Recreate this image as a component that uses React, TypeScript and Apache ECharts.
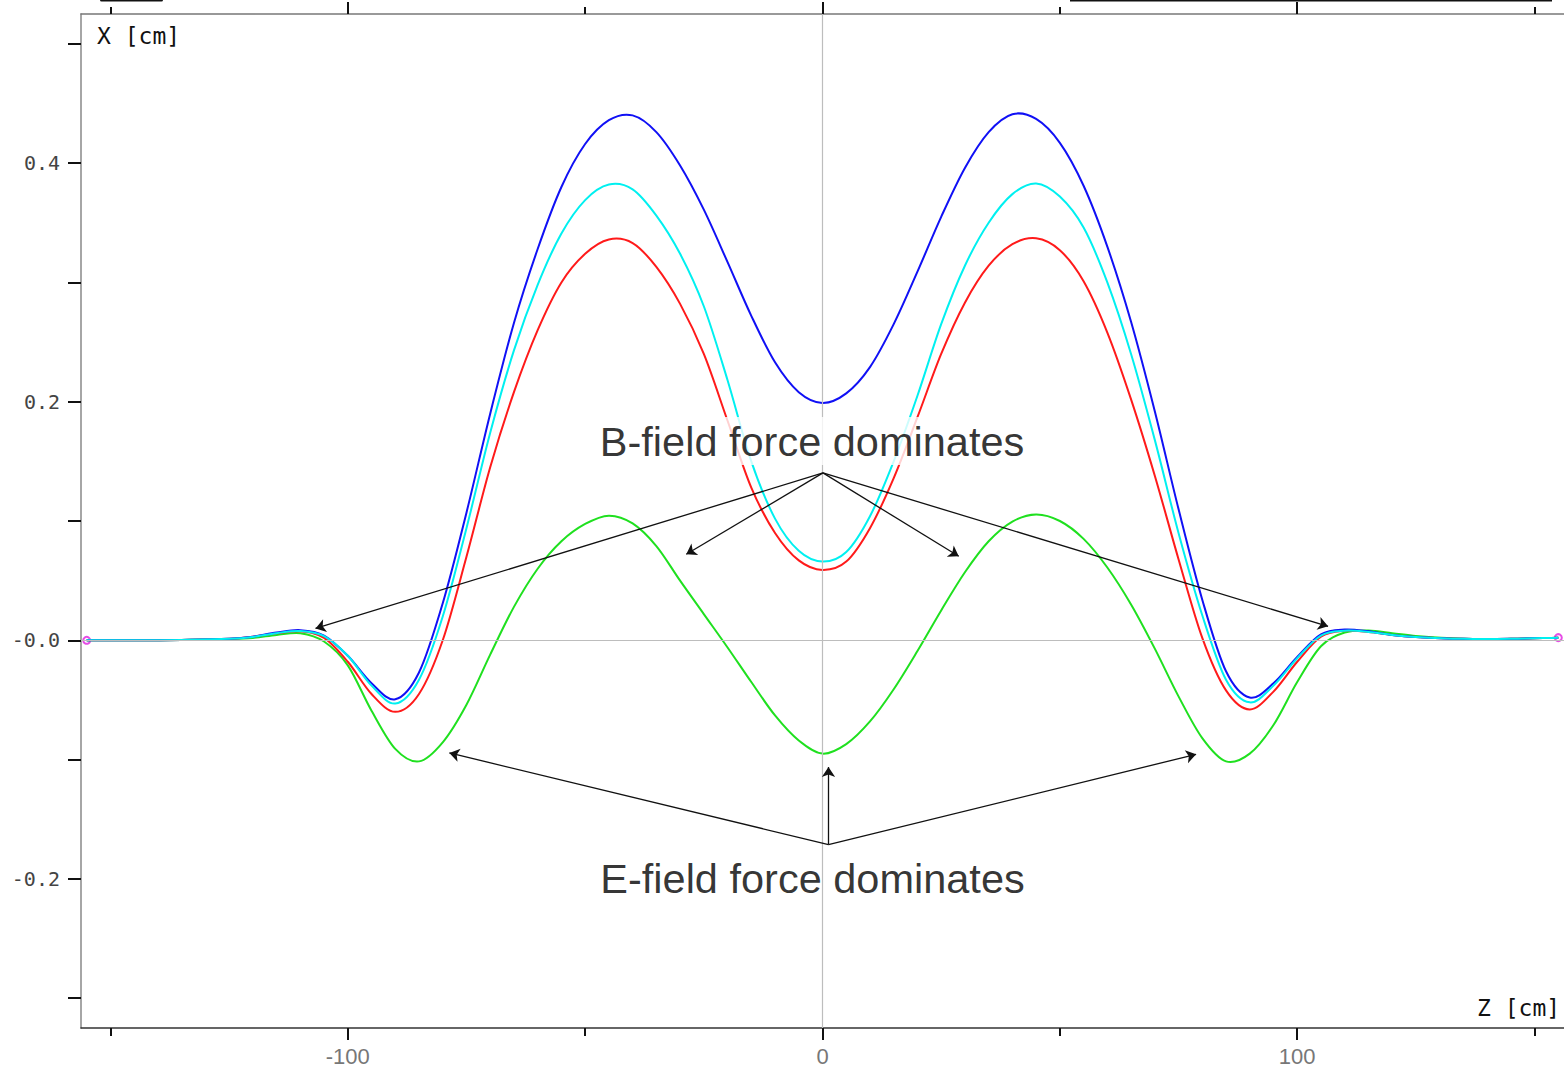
import React, { useEffect, useRef } from "react";
import * as echarts from "echarts";

// Longitudinal position Z [cm]
const Z_CM = [
  -155, -145, -135, -125, -120, -115, -110, -105, -100, -95, -90, -85, -80, -75, -70, -65, -60, -55, -50,
  -45, -40, -35, -30, -25, -20, -15, -10, -5, 0, 5, 10, 15, 20, 25, 30, 35, 40, 45, 50, 55, 60, 65, 70, 75,
  80, 85, 90, 95, 100, 105, 110, 115, 120, 125, 135, 145, 155,
];

// Transverse displacement X [cm] for each trajectory
const X_BLUE = [
  0, 0, 0.0003, 0.0012, 0.003, 0.0065, 0.0085, 0.004, -0.013, -0.036, -0.0495, -0.027, 0.031, 0.107, 0.19,
  0.266, 0.328, 0.38, 0.416, 0.436, 0.44, 0.426, 0.398, 0.361, 0.317, 0.272, 0.233, 0.208, 0.199, 0.207,
  0.229, 0.265, 0.309, 0.355, 0.396, 0.426, 0.441, 0.437, 0.417, 0.381, 0.33, 0.267, 0.192, 0.11, 0.034,
  -0.026, -0.048, -0.036, -0.014, 0.005, 0.009, 0.0075, 0.0045, 0.0028, 0.0012, 0.0012, 0.0022,
];
const X_CYAN = [
  0, 0, 0.0003, 0.0012, 0.0028, 0.006, 0.0078, 0.0035, -0.013, -0.038, -0.053, -0.033, 0.02, 0.094, 0.174,
  0.243, 0.298, 0.341, 0.369, 0.382, 0.378, 0.356, 0.324, 0.28, 0.218, 0.15, 0.102, 0.075, 0.066, 0.074,
  0.104, 0.15, 0.205, 0.265, 0.314, 0.35, 0.374, 0.383, 0.372, 0.346, 0.3, 0.24, 0.168, 0.09, 0.021,
  -0.033, -0.052, -0.038, -0.015, 0.004, 0.008, 0.007, 0.0045, 0.0028, 0.0012, 0.0012, 0.0022,
];
const X_RED = [
  0, 0, 0.0003, 0.0012, 0.003, 0.0058, 0.0075, 0.002, -0.018, -0.045, -0.06, -0.045, 0, 0.07, 0.145, 0.208,
  0.26, 0.3, 0.324, 0.336, 0.333, 0.313, 0.282, 0.24, 0.184, 0.128, 0.09, 0.067, 0.059, 0.066, 0.094,
  0.136, 0.187, 0.24, 0.283, 0.314, 0.332, 0.337, 0.327, 0.301, 0.258, 0.202, 0.138, 0.068, 0.002, -0.042,
  -0.058, -0.043, -0.018, 0.003, 0.008, 0.007, 0.0045, 0.0028, 0.0012, 0.0012, 0.0022,
];
const X_GREEN = [
  0, 0, 0.0003, 0.0011, 0.002, 0.0045, 0.006, -0.001, -0.021, -0.059, -0.091, -0.1015, -0.0855, -0.054,
  -0.012, 0.028, 0.06, 0.083, 0.0975, 0.1045, 0.098, 0.079, 0.05, 0.022, -0.006, -0.035, -0.063, -0.084,
  -0.095, -0.087, -0.068, -0.041, -0.009, 0.025, 0.057, 0.083, 0.0995, 0.1055, 0.1, 0.085, 0.061, 0.03,
  -0.007, -0.047, -0.082, -0.1015, -0.095, -0.071, -0.035, -0.005, 0.0065, 0.0082, 0.006, 0.0035, 0.0012,
  0.0012, 0.0022,
];

// Start and end points of the tracked trajectories
const END_POINTS = [
  [-155, 0],
  [155, 0.0022],
];

// Axis ticks and labels
const Z_MAJOR_TICKS = [-100, 0, 100];
const Z_MINOR_TICKS = [-150, -50, 50, 150];
const X_TICKS = [-0.3, -0.2, -0.1, 0, 0.1, 0.2, 0.3, 0.4, 0.5];
const X_LABELS = [-0.2, 0, 0.2, 0.4];

// Annotation callouts: [from, to] in data coordinates
const B_ORIGIN = [0.1, 0.1403];
const B_TARGETS = [
  [-106.8, 0.0099],
  [-28.7, 0.0721],
  [28.7, 0.0704],
  [106.5, 0.0117],
];
const E_ORIGIN = [1.26, -0.1713];
const E_TARGETS = [
  [-78.6, -0.0944],
  [1.26, -0.1062],
  [78.7, -0.0956],
];
const ANNOTATION_TEXTS = [
  { z: -2.2, x: 0.167, text: "B-field force dominates", masked: true },
  { z: -2.1, x: -0.2, text: "E-field force dominates", masked: false },
];

const Z_MIN = -156.2;
const Z_MAX = 156.2;
const X_MIN = -0.325;
const X_MAX = 0.525;

// Smooth trajectory through the sampled points: cubic Hermite segments
// parameterised by Z, with central-difference tangents, in pixel space.
function trajectoryPath(pts: number[][], api: any): string {
  const px = pts.map((p) => api.coord(p));
  const n = pts.length;
  const slope = (i: number) => {
    const a = Math.max(0, i - 1);
    const b = Math.min(n - 1, i + 1);
    const dz = pts[b][0] - pts[a][0];
    return [(px[b][0] - px[a][0]) / dz, (px[b][1] - px[a][1]) / dz];
  };
  const f = (v: number) => v.toFixed(2);
  let d = `M${f(px[0][0])} ${f(px[0][1])}`;
  for (let i = 0; i < n - 1; i++) {
    const h = (pts[i + 1][0] - pts[i][0]) / 3;
    const m0 = slope(i);
    const m1 = slope(i + 1);
    d +=
      ` C${f(px[i][0] + m0[0] * h)} ${f(px[i][1] + m0[1] * h)}` +
      ` ${f(px[i + 1][0] - m1[0] * h)} ${f(px[i + 1][1] - m1[1] * h)}` +
      ` ${f(px[i + 1][0])} ${f(px[i + 1][1])}`;
  }
  return d;
}

export default function App() {
  const ref = useRef<HTMLDivElement>(null);

  useEffect(() => {
    if (!ref.current) return;
    const chart = echarts.init(ref.current, undefined, { renderer: "svg" });

    const gridBox = { left: 81, top: 14, width: 1489, height: 1014 };
    const mono = "DejaVu Sans Mono";

    const curve = (name: string, ys: number[], color: string, z: number) => {
      const pts = Z_CM.map((zv, i) => [zv, ys[i]]);
      return {
        name,
        type: "custom",
        coordinateSystem: "cartesian2d",
        xAxisIndex: 0,
        yAxisIndex: 0,
        data: pts,
        silent: true,
        z,
        renderItem: (params: any, api: any) => {
          if (params.dataIndex !== 0) return null;
          return {
            type: "path",
            shape: { pathData: trajectoryPath(pts, api) },
            style: { fill: "none", stroke: color, lineWidth: 2 },
          };
        },
      };
    };

    const zAxis = (grid: number, position: string, ticks: number[], len: number, line: any, labels: boolean) => ({
      gridIndex: grid,
      type: "value",
      position,
      min: Z_MIN,
      max: Z_MAX,
      axisLine: line ? { show: true, onZero: false, lineStyle: line } : { show: false, onZero: false },
      axisTick: {
        show: true,
        customValues: ticks,
        length: len,
        lineStyle: { color: "#111", width: 2 },
      },
      axisLabel: labels
        ? {
            show: true,
            customValues: ticks,
            margin: 17,
            fontSize: 22,
            fontFamily: "Liberation Sans",
            color: "#777",
            formatter: (v: number) => String(v),
          }
        : { show: false },
      splitLine: { show: false },
    });

    const option: any = {
      animation: false,
      backgroundColor: "#ffffff",
      grid: [gridBox, gridBox],
      xAxis: [
        zAxis(0, "bottom", Z_MAJOR_TICKS, 12, { color: "#333", width: 1.5 }, true),
        zAxis(0, "top", Z_MAJOR_TICKS, 12, { color: "#777", width: 1.5 }, false),
        zAxis(1, "bottom", Z_MINOR_TICKS, 8, null, false),
        zAxis(1, "top", Z_MINOR_TICKS, 7, null, false),
      ],
      yAxis: [
        {
          gridIndex: 0,
          type: "value",
          position: "left",
          min: X_MIN,
          max: X_MAX,
          axisLine: { show: true, onZero: false, lineStyle: { color: "#888", width: 1.5 } },
          axisTick: {
            show: true,
            customValues: X_TICKS,
            length: 13,
            lineStyle: { color: "#111", width: 2 },
          },
          axisLabel: {
            show: true,
            customValues: X_LABELS,
            margin: 21,
            fontSize: 20,
            fontFamily: mono,
            color: "#444",
            formatter: (v: number) => (Math.abs(v) < 1e-9 ? "-0.0" : v.toFixed(1)),
          },
          splitLine: { show: false },
        },
        {
          gridIndex: 1,
          type: "value",
          min: X_MIN,
          max: X_MAX,
          show: false,
        },
      ],
      graphic: [
        {
          type: "rect",
          shape: { x: 100, y: -2, width: 63, height: 3.5, r: 1.5 },
          style: { fill: "#111" },
        },
        {
          type: "line",
          shape: { x1: 1070, y1: 0.5, x2: 1552, y2: 0.5 },
          style: { stroke: "#111", lineWidth: 2 },
        },
        {
          type: "text",
          x: 97,
          y: 36,
          style: {
            text: "X [cm]",
            font: `23px "${mono}"`,
            fill: "#111",
            textVerticalAlign: "middle",
          },
          z: 10,
        },
        {
          type: "text",
          x: 1477,
          y: 1008,
          style: {
            text: "Z [cm]",
            font: `23px "${mono}"`,
            fill: "#111",
            textVerticalAlign: "middle",
          },
          z: 10,
        },
      ],
      series: [
        {
          name: "reference lines",
          type: "line",
          xAxisIndex: 0,
          yAxisIndex: 0,
          data: [],
          silent: true,
          z: 1,
          markLine: {
            silent: true,
            symbol: ["none", "none"],
            label: { show: false },
            lineStyle: { color: "#bdbdbd", width: 1.2, type: "solid" },
            data: [{ xAxis: 0 }, { yAxis: 0 }],
          },
        },
        {
          name: "end points",
          type: "scatter",
          xAxisIndex: 0,
          yAxisIndex: 0,
          data: END_POINTS,
          symbol: "circle",
          symbolSize: 7,
          itemStyle: { color: "rgba(0,0,0,0)", borderColor: "#e020e0", borderWidth: 2 },
          z: 2,
          silent: true,
        },
        curve("green", X_GREEN, "#1fe01f", 3),
        curve("red", X_RED, "#ff1a1a", 3),
        curve("blue", X_BLUE, "#1010f5", 3),
        curve("cyan", X_CYAN, "#00f0f0", 3),
        {
          name: "annotations",
          type: "scatter",
          xAxisIndex: 0,
          yAxisIndex: 0,
          symbolSize: 0,
          silent: true,
          z: 6,
          data: ANNOTATION_TEXTS.map((a) => ({
            value: [a.z, a.x],
            label: {
              show: true,
              position: "inside",
              formatter: a.text,
              fontSize: 41.5,
              fontFamily: "Liberation Sans",
              color: "#000",
              backgroundColor: a.masked ? "#ffffff" : "transparent",
              padding: [3, 3],
            },
          })),
        },
        {
          name: "callouts",
          type: "line",
          xAxisIndex: 0,
          yAxisIndex: 0,
          data: [],
          silent: true,
          z: 7,
          itemStyle: { color: "#111" },
          markLine: {
            silent: true,
            symbol: ["none", "arrow"],
            symbolSize: 10,
            label: { show: false },
            itemStyle: { color: "#111" },
            lineStyle: { color: "#111", width: 1.3, type: "solid" },
            data: [
              ...B_TARGETS.map((t) => [{ coord: B_ORIGIN }, { coord: t }]),
              ...E_TARGETS.map((t) => [{ coord: E_ORIGIN }, { coord: t }]),
            ],
          },
        },
      ],
    };

    chart.setOption(option);
    return () => chart.dispose();
  }, []);

  return (
    <div
      ref={ref}
      style={{ position: "fixed", left: 0, top: 0, width: 1564, height: 1068, background: "#fff" }}
    />
  );
}
